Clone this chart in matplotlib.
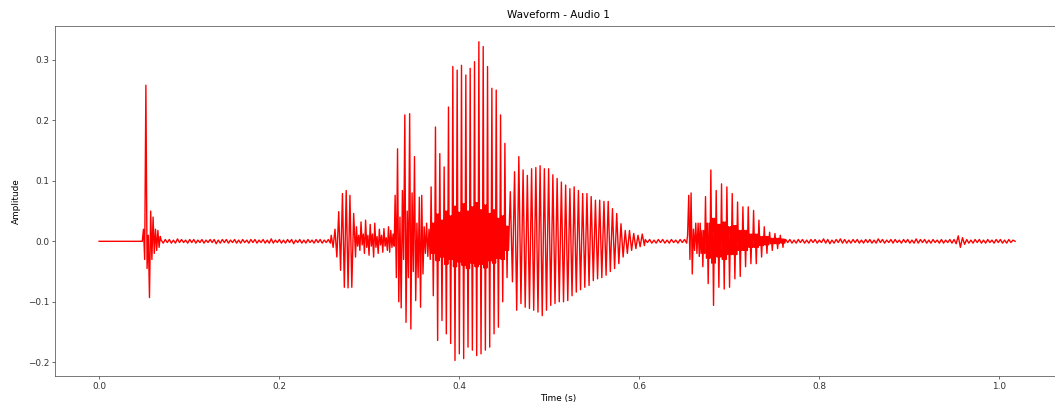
import numpy as np
import matplotlib
matplotlib.use("Agg")
import matplotlib.pyplot as plt

# peak amplitudes, segment by segment (in time order)
silence_amp = [0.0, 0.0]
click_amp = [0.0, 0.02, -0.03, 0.258, -0.045, 0.01, -0.093, 0.05, -0.03, 0.04,
             -0.02, 0.02, -0.015, 0.018, -0.01, 0.008]
noise_a_amp = [0.002, -0.003, 0.003, -0.002, 0.003, -0.003, 0.002, -0.003, 0.004, -0.002,
               0.003, -0.002, 0.002, -0.003, 0.003, -0.002, 0.003, -0.003, 0.002, -0.002,
               0.003, -0.003, 0.002, -0.002, 0.003, -0.002, 0.003, -0.004, 0.002, -0.003,
               0.003, -0.002, 0.003, -0.003, 0.002, -0.002, 0.003, -0.003, 0.002, -0.003,
               0.003, -0.002, 0.002, -0.003, 0.003, -0.002, 0.003, -0.003, 0.002, -0.002,
               0.003, -0.003, 0.002, -0.003, 0.004, -0.003, 0.002, -0.002, 0.003, -0.003,
               0.002, -0.003, 0.003, -0.002, 0.003, -0.004, 0.002, -0.002, 0.003, -0.003,
               0.002, -0.003, 0.003, -0.002, 0.002, -0.003, 0.003, -0.002, 0.003, -0.003,
               0.002, -0.002, 0.003, -0.003]
burst1_amp = [0.01, -0.01, 0.02, -0.026, 0.049, -0.048, 0.079, -0.076, 0.084, -0.077,
              0.076, -0.076, 0.046, -0.026]
burst1_tail_amp = [0.024, -0.008, 0.01, -0.015, 0.032, -0.006, 0.012, -0.02, 0.035, -0.01,
                   0.01, -0.023, 0.028, -0.008, 0.012, -0.026, 0.03, -0.01, 0.008, -0.02,
                   0.02, -0.006, 0.01, -0.018, 0.021, -0.008, 0.006, -0.015, 0.024, -0.018,
                   0.018, -0.01, 0.012, -0.008]
burst2_amp = [0.076, -0.06, 0.153, -0.10, 0.04, -0.11, 0.084, -0.03, 0.209, -0.134,
              0.05, -0.06, 0.211, -0.145, 0.08, -0.05, 0.14, -0.098, 0.03, -0.06,
              0.073, -0.109, 0.076, -0.054, 0.024, -0.02, 0.03, -0.025, 0.02, -0.03]
# main syllable: big cycles plus the dense fill between them
burst3_up = [0.09, 0.189, 0.145, 0.123, 0.222, 0.289, 0.283, 0.291, 0.275, 0.286,
             0.297, 0.330, 0.322, 0.289, 0.253, 0.25, 0.209, 0.162]
burst3_down = [-0.09, -0.164, -0.131, -0.153, -0.169, -0.197, -0.186, -0.194, -0.175, -0.18,
               -0.189, -0.186, -0.18, -0.175, -0.153, -0.142, -0.10, -0.06]
burst3_fill_hi = [0.03, 0.045, 0.035, 0.05, 0.042, 0.058, 0.048, 0.062, 0.05, 0.057,
                  0.064, 0.052, 0.06, 0.046, 0.052, 0.038, 0.042, 0.025]
burst3_fill_lo = [-0.02, -0.032, -0.026, -0.038, -0.03, -0.042, -0.034, -0.04, -0.045, -0.036,
                  -0.042, -0.038, -0.044, -0.032, -0.036, -0.028, -0.03, -0.015]
burst4_up = [0.082, 0.115, 0.14, 0.118, 0.109, 0.12, 0.122, 0.125, 0.12, 0.12,
             0.11, 0.104, 0.098, 0.093, 0.087, 0.09, 0.084, 0.079, 0.079, 0.074,
             0.068, 0.068, 0.066, 0.066, 0.054, 0.046, 0.029, 0.018, 0.018, 0.013,
             0.01, 0.012]
burst4_down = [-0.067, -0.114, -0.103, -0.109, -0.111, -0.114, -0.117, -0.123, -0.114, -0.106,
               -0.103, -0.1, -0.1, -0.098, -0.09, -0.084, -0.08, -0.076, -0.073, -0.065,
               -0.062, -0.06, -0.056, -0.05, -0.045, -0.037, -0.026, -0.02, -0.015, -0.012,
               -0.009, -0.007]
noise_b_amp = [0.003, -0.002, 0.003, -0.003, 0.002, -0.003, 0.003, -0.002, 0.003, -0.003,
               0.002, -0.003, 0.003, -0.002, 0.002, -0.003, 0.003, -0.002, 0.003, -0.003]
burst5_onset_amp = [0.01, 0.076, -0.03, 0.08, -0.054, 0.02, -0.015, 0.03, -0.02, 0.03, -0.025]
burst5_up = [0.03, 0.074, 0.118, 0.084, 0.095, 0.09, 0.079, 0.065, 0.057, 0.057,
             0.051, 0.035, 0.024, 0.015, 0.013, 0.01]
burst5_down = [-0.042, -0.07, -0.106, -0.076, -0.079, -0.076, -0.062, -0.058, -0.042, -0.037,
               -0.037, -0.026, -0.02, -0.015, -0.012, -0.01]
burst5_fill_hi = [0.018, 0.03, 0.038, 0.028, 0.032, 0.024, 0.026, 0.018, 0.018, 0.012,
                  0.012, 0.008, 0.008, 0.005, 0.005, 0.004]
burst5_fill_lo = [-0.02, -0.028, -0.036, -0.026, -0.03, -0.022, -0.022, -0.015, -0.015, -0.01,
                  -0.01, -0.007, -0.006, -0.004, -0.004, -0.003]
noise_c_amp = [0.003, -0.002, 0.003, -0.003, 0.002, -0.003, 0.003, -0.002, 0.003, -0.003,
               0.002, -0.003, 0.003, -0.002, 0.003, -0.003, 0.002, -0.002, 0.004, -0.003,
               0.003, -0.004, 0.002, -0.003, 0.003, -0.002, 0.004, -0.003, 0.003, -0.003,
               0.002, -0.003, 0.003, -0.002, 0.003, -0.003, 0.002, -0.003, 0.003, -0.002,
               0.003, -0.003, 0.002, -0.003, 0.004, -0.002, 0.003, -0.003, 0.002, -0.002,
               0.003, -0.003, 0.003, -0.002, 0.002, -0.003, 0.003, -0.002, 0.003, -0.003,
               0.002, -0.003, 0.004, -0.003, 0.003, -0.002, 0.003, -0.003, 0.002, -0.003,
               0.003, -0.002, 0.002, -0.003, 0.003, -0.003, 0.002, -0.002, 0.003, -0.003,
               0.003, -0.004, 0.009, -0.010, 0.006, -0.005, 0.003, -0.003, 0.002, -0.003,
               0.003, -0.002, 0.003, -0.003, 0.002, -0.003, 0.003, -0.002, 0.002, -0.003,
               0.003, -0.002, 0.003, -0.003, 0.002, -0.003, 0.003, -0.002, 0.002, 0.0]

# time span (s) of each segment
segments = [
    (0.000, 0.047, silence_amp),
    (0.048, 0.068, click_amp),
    (0.069, 0.257, noise_a_amp),
    (0.258, 0.285, burst1_amp),
    (0.286, 0.328, burst1_tail_amp),
    (0.329, 0.368, burst2_amp),
    (0.369, 0.455, [v for c in zip(burst3_up, burst3_fill_lo, burst3_fill_hi,
                                   burst3_down, burst3_fill_hi, burst3_fill_lo) for v in c]),
    (0.457, 0.606, [v for c in zip(burst4_up, burst4_down) for v in c]),
    (0.607, 0.653, noise_b_amp),
    (0.654, 0.667, burst5_onset_amp),
    (0.668, 0.762, [v for c in zip(burst5_up, burst5_fill_lo, burst5_fill_hi,
                                   burst5_down, burst5_fill_hi, burst5_fill_lo) for v in c]),
    (0.763, 1.018, noise_c_amp),
]

t = np.concatenate([np.linspace(t0, t1, len(a)) for t0, t1, a in segments])
y = np.concatenate([np.asarray(a, dtype=float) for _, _, a in segments])

fig = plt.figure(figsize=(10.55, 4.03), dpi=100)
ax = fig.add_axes([55 / 1055, 27 / 403, (1061 - 55) / 1055, 350 / 403])
ax.plot(t, y, color="red", linewidth=1.0)

ax.set_xlim(-0.049, 1.069)
ax.set_ylim(-0.2227, 0.356)
ax.set_xticks([0.0, 0.2, 0.4, 0.6, 0.8, 1.0])
ax.set_yticks([-0.2, -0.1, 0.0, 0.1, 0.2, 0.3])
ax.tick_params(labelsize=6.4, length=2.1, width=0.5, pad=2.1, colors="#333333")
for s in ax.spines.values():
    s.set_linewidth(0.5)
    s.set_color("#444444")

ax.set_title("Waveform - Audio 1", fontsize=7.5, pad=6)
ax.set_xlabel("Time (s)", fontsize=6.4, labelpad=2.5)
ax.set_ylabel("Amplitude", fontsize=6.4, labelpad=5)

fig.savefig("out.png", dpi=100)
